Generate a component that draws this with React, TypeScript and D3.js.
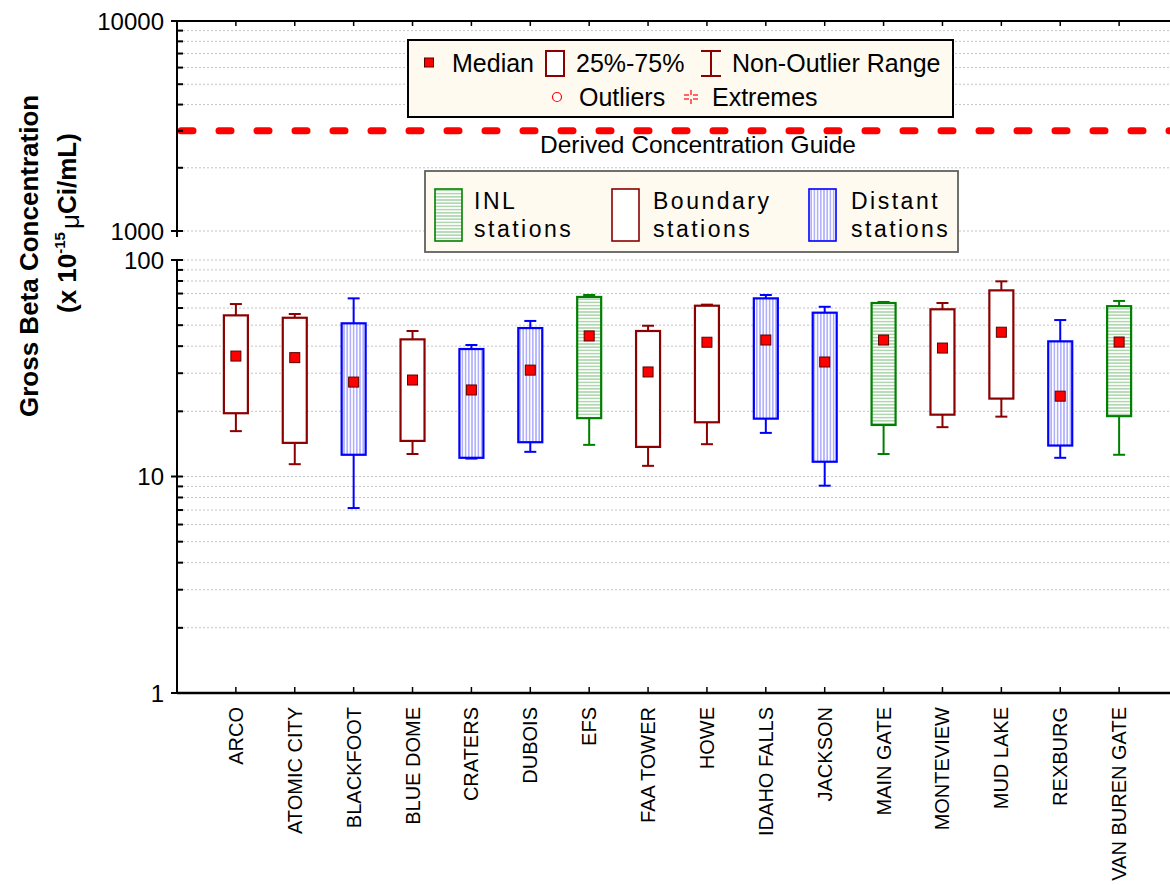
import React from 'react';
import * as d3 from 'd3';

// Air monitoring stations and their gross beta summary statistics (x 10^-15 µCi/mL)
const stations = [
  'ARCO', 'ATOMIC CITY', 'BLACKFOOT', 'BLUE DOME', 'CRATERS', 'DUBOIS', 'EFS', 'FAA TOWER',
  'HOWE', 'IDAHO FALLS', 'JACKSON', 'MAIN GATE', 'MONTEVIEW', 'MUD LAKE', 'REXBURG', 'VAN BUREN GATE',
];
const stationGroup = [
  'Boundary', 'Boundary', 'Distant', 'Boundary', 'Distant', 'Distant', 'INL', 'Boundary',
  'Boundary', 'Distant', 'Distant', 'INL', 'Boundary', 'Boundary', 'Distant', 'INL',
];
const whiskerLow = [16.2, 11.4, 7.15, 12.7, 12.1, 13.0, 14.0, 11.2, 14.1, 15.9, 9.07, 12.7, 16.9, 18.9, 12.2, 12.6];
const quartile1 = [19.6, 14.3, 12.6, 14.6, 12.2, 14.4, 18.6, 13.7, 17.8, 18.5, 11.7, 17.3, 19.3, 22.9, 13.9, 19.0];
const medians = [36.0, 35.4, 27.3, 27.9, 25.1, 31.0, 44.6, 30.4, 41.7, 42.7, 33.8, 42.7, 39.2, 46.4, 23.5, 41.8];
const quartile3 = [55.5, 54.1, 51.0, 43.0, 38.8, 48.5, 67.5, 47.0, 61.5, 66.5, 57.1, 63.3, 59.2, 72.4, 42.1, 61.2];
const whiskerHigh = [62.6, 56.3, 66.5, 47.0, 40.5, 52.3, 68.9, 49.7, 62.2, 68.9, 60.8, 64.0, 63.3, 79.7, 52.8, 64.7];

const upperMajor = [1000, 10000];
const upperMinor = [2000, 3000, 4000, 5000, 6000, 7000, 8000, 9000];
const lowerMajor = [1, 10, 100];
const lowerMinor = [2, 3, 4, 5, 6, 7, 8, 9, 20, 30, 40, 50, 60, 70, 80, 90];
const derivedGuide = 3000;

const groupNames = ['INL', 'Boundary', 'Distant'];
const groupLabels = [['INL', 'stations'], ['Boundary', 'stations'], ['Distant', 'stations']];

const W = 1170;
const H = 885;
const FONT = '"Liberation Sans", Arial, sans-serif';
const AX = 177;

const upperY = d3.scaleLog().domain([1000, 10000]).range([231, 21]);
const lowerY = d3.scaleLog().domain([1, 100]).range([693, 260]);
const x = d3.scalePoint<string>().domain(stations).range([AX, 1178]).padding(1);

const groupStyle: Record<string, { stroke: string; fill: string }> = {
  INL: { stroke: '#008000', fill: 'url(#hatchH)' },
  Boundary: { stroke: '#8b0000', fill: '#ffffff' },
  Distant: { stroke: '#0000ff', fill: 'url(#hatchV)' },
};

const fmt = (v: number) => String(v);

export default function App() {
  const gridVals: number[][] = [
    [...upperMajor.filter((v) => v < 10000), ...upperMinor].map((v) => upperY(v)),
    [...lowerMajor.filter((v) => v > 1), ...lowerMinor].map((v) => lowerY(v)),
  ];
  const gridYs = gridVals.flat().filter((y) => !(Math.abs(y - upperY(derivedGuide)) < 1));

  const boxW = 24;
  const capW = 12;
  const med = 10;

  return (
    <svg
      width={W}
      height={H}
      viewBox={`0 0 ${W} ${H}`}
      style={{ position: 'absolute', left: 0, top: 0, background: '#fff' }}
      fontFamily={FONT}
    >
      <defs>
        <pattern id="hatchH" width="4" height="3.2" patternUnits="userSpaceOnUse">
          <rect width="4" height="3.2" fill="#ffffff" />
          <line x1="0" x2="4" y1="1.6" y2="1.6" stroke="#7fbf7f" strokeWidth="1" />
        </pattern>
        <pattern id="hatchV" width="3.2" height="4" patternUnits="userSpaceOnUse">
          <rect width="3.2" height="4" fill="#ffffff" />
          <line y1="0" y2="4" x1="1.6" x2="1.6" stroke="#8080ff" strokeWidth="1" />
        </pattern>
        <clipPath id="plotClip">
          <rect x={AX} y={0} width={W - AX} height={H} />
        </clipPath>
      </defs>

      {/* dotted gridlines */}
      <g stroke="#c4c4c4" strokeWidth={1} strokeDasharray="2,2">
        {gridYs.map((y, i) => (
          <line key={i} x1={AX + 2} x2={W} y1={y} y2={y} />
        ))}
      </g>

      {/* derived concentration guide */}
      <line
        x1={AX + 4}
        x2={W + 10}
        y1={upperY(derivedGuide)}
        y2={upperY(derivedGuide)}
        stroke="#ff0000"
        strokeWidth={7}
        strokeLinecap="round"
        strokeDasharray="12,26"
        clipPath="url(#plotClip)"
      />
      <text x={698} y={153} fontSize={24.5} textAnchor="middle" fill="#000">
        Derived Concentration Guide
      </text>

      {/* frame and axes */}
      <line x1={AX} x2={W} y1={21} y2={21} stroke="#000" strokeWidth={2} />
      <line x1={AX} x2={W} y1={693} y2={693} stroke="#000" strokeWidth={2.5} />
      <line x1={AX} x2={AX} y1={20} y2={237} stroke="#000" strokeWidth={2} />
      <line x1={AX} x2={AX} y1={259} y2={694} stroke="#000" strokeWidth={2} />

      {stations.map((s) => (
        <g key={s}>
          <line x1={x(s)} x2={x(s)} y1={21} y2={26} stroke="#000" strokeWidth={1.5} />
          <line x1={x(s)} x2={x(s)} y1={693} y2={687} stroke="#000" strokeWidth={1.5} />
          <text
            transform={`translate(${(x(s) as number) + 7},707) rotate(-90)`}
            fontSize={20}
            textAnchor="end"
            fill="#000"
          >
            {s}
          </text>
        </g>
      ))}

      {/* y ticks */}
      <g stroke="#000" strokeWidth={2}>
        {upperMinor.map((v) => (
          <line key={'um' + v} x1={AX} x2={AX + 6} y1={upperY(v)} y2={upperY(v)} />
        ))}
        {lowerMinor.map((v) => (
          <line key={'lm' + v} x1={AX} x2={AX + 6} y1={lowerY(v)} y2={lowerY(v)} />
        ))}
        {upperMajor.map((v) => (
          <line key={'uM' + v} x1={AX - 6} x2={AX + 6} y1={upperY(v)} y2={upperY(v)} />
        ))}
        {lowerMajor.map((v) => (
          <line key={'lM' + v} x1={AX - 6} x2={AX + 6} y1={lowerY(v)} y2={lowerY(v)} />
        ))}
      </g>
      <g fontSize={24} textAnchor="end" fill="#000">
        {upperMajor.map((v) => (
          <text key={'ut' + v} x={164} y={upperY(v)} dy="0.36em">
            {fmt(v)}
          </text>
        ))}
        {lowerMajor.map((v) => (
          <text key={'lt' + v} x={164} y={lowerY(v)} dy="0.36em">
            {fmt(v)}
          </text>
        ))}
      </g>

      {/* y axis title */}
      <text transform="translate(38,417) rotate(-90)" fontSize={26} fontWeight="bold" fill="#000">
        Gross Beta Concentration
      </text>
      <text transform="translate(76,313) rotate(-90)" fontSize={26} fontWeight="bold" fill="#000">
        (x 10
        <tspan fontSize={15} dy={-11}>
          -15
        </tspan>
        <tspan dy={14} dx={3} fontWeight="normal">
          μ
        </tspan>
        <tspan dy={-3}>Ci/mL)</tspan>
      </text>

      {/* box plots */}
      {stations.map((s, i) => {
        const cx = x(s) as number;
        const st = groupStyle[stationGroup[i]];
        const yHi = lowerY(whiskerHigh[i]);
        const yQ3 = lowerY(quartile3[i]);
        const yQ1 = lowerY(quartile1[i]);
        const yLo = lowerY(whiskerLow[i]);
        const yMed = lowerY(medians[i]);
        return (
          <g key={'box' + s}>
            <g stroke={st.stroke} strokeWidth={2}>
              <line x1={cx} x2={cx} y1={yHi} y2={yQ3} />
              <line x1={cx} x2={cx} y1={yQ1} y2={yLo} />
              <line x1={cx - capW / 2} x2={cx + capW / 2} y1={yHi} y2={yHi} />
              <line x1={cx - capW / 2} x2={cx + capW / 2} y1={yLo} y2={yLo} />
            </g>
            <rect
              x={cx - boxW / 2}
              y={yQ3}
              width={boxW}
              height={yQ1 - yQ3}
              fill={st.fill}
              stroke={st.stroke}
              strokeWidth={2.2}
            />
            <rect
              x={cx - med / 2}
              y={yMed - med / 2}
              width={med}
              height={med}
              fill="#ff0000"
              stroke="#5a0000"
              strokeWidth={1}
            />
          </g>
        );
      })}

      {/* statistics legend */}
      <g>
        <rect x={408} y={40} width={545} height={77} fill="#fffaf0" stroke="#000" strokeWidth={2} />
        <rect x={424.5} y={58} width={9} height={9} fill="#ff0000" stroke="#5a0000" strokeWidth={1} />
        <text x={452} y={72} fontSize={25} fill="#000">Median</text>
        <rect x={546} y={51} width={18} height={25} fill="#ffffff" stroke="#8b0000" strokeWidth={2} />
        <text x={576} y={72} fontSize={25} fill="#000">25%-75%</text>
        <g stroke="#8b0000" strokeWidth={2}>
          <line x1={701} x2={721} y1={51} y2={51} />
          <line x1={701} x2={721} y1={76} y2={76} />
          <line x1={711} x2={711} y1={51} y2={76} />
        </g>
        <text x={732} y={72} fontSize={25} fill="#000">Non-Outlier Range</text>
        <circle cx={557} cy={97} r={4.5} fill="#ffffff" stroke="#ff0000" strokeWidth={1.2} />
        <text x={579} y={106} fontSize={25} fill="#000">Outliers</text>
        <g stroke="#ff0000" strokeWidth={1.2}>
          <line x1={691} x2={691} y1={90} y2={95} />
          <line x1={691} x2={691} y1={99} y2={104} />
          <line x1={684} x2={689} y1={95} y2={95} />
          <line x1={693} x2={698} y1={95} y2={95} />
          <line x1={684} x2={689} y1={99} y2={99} />
          <line x1={693} x2={698} y1={99} y2={99} />
        </g>
        <text x={712} y={106} fontSize={25} fill="#000">Extremes</text>
      </g>

      {/* station group legend */}
      <g>
        <rect x={425} y={171} width={533} height={81} fill="#fffaf0" stroke="#606060" strokeWidth={1.8} />
        {groupNames.map((g, i) => {
          const ix = [435, 612, 809][i];
          const tx = [474, 653, 851][i];
          const st = groupStyle[g];
          return (
            <g key={g}>
              <rect x={ix} y={189} width={27} height={52} fill={st.fill} stroke={st.stroke} strokeWidth={1.6} />
              <text x={tx} y={209} fontSize={23} letterSpacing={2.5} fill="#000">
                {groupLabels[i][0]}
              </text>
              <text x={tx} y={237} fontSize={23} letterSpacing={2.5} fill="#000">
                {groupLabels[i][1]}
              </text>
            </g>
          );
        })}
      </g>
    </svg>
  );
}
